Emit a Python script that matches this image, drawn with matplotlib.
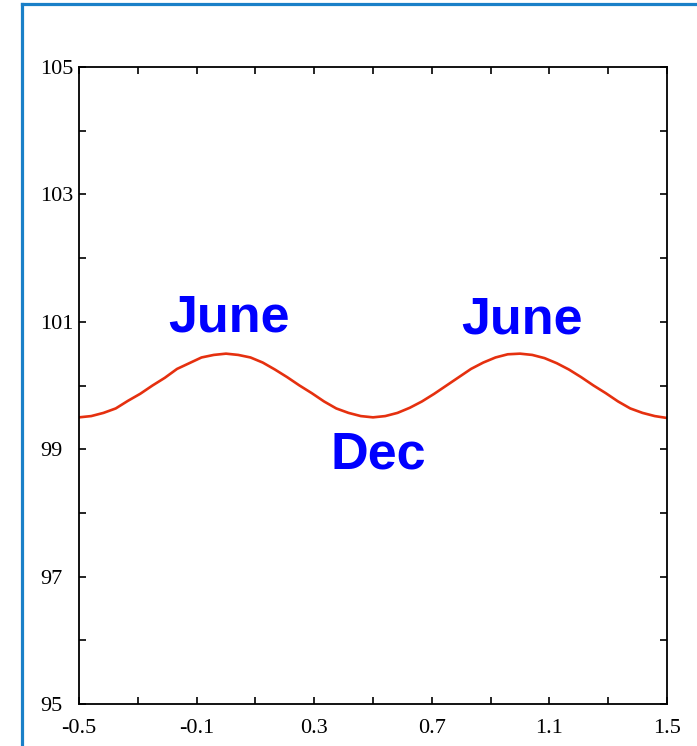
import numpy as np
import matplotlib.pyplot as plt
from matplotlib.lines import Line2D

# phase (years) and values
phase = np.arange(49) / 24.0 - 0.5
values = [99.50, 99.52, 99.57, 99.64, 99.76, 99.87, 100.00, 100.12, 100.26, 100.35,
          100.44, 100.48, 100.50, 100.48, 100.44, 100.36, 100.25, 100.13, 100.00, 99.88,
          99.75, 99.64, 99.57, 99.52, 99.50, 99.52, 99.57, 99.65, 99.75, 99.87,
          100.00, 100.13, 100.26, 100.36, 100.44, 100.49, 100.50, 100.48, 100.43, 100.35,
          100.25, 100.13, 100.00, 99.88, 99.75, 99.64, 99.57, 99.52, 99.49]

xticks = [-0.5, -0.3, -0.1, 0.1, 0.3, 0.5, 0.7, 0.9, 1.1, 1.3, 1.5]
xlabels = ['-0.5', '', '-0.1', '', '0.3', '', '0.7', '', '1.1', '', '1.5']
yticks = [95, 96, 97, 98, 99, 100, 101, 102, 103, 104, 105]
ylabels = ['95', '', '97', '', '99', '', '101', '', '103', '', '105']

plt.rcParams['font.family'] = 'Liberation Serif'

fig = plt.figure(figsize=(6.97, 7.46), dpi=100)
ax = fig.add_axes([79/697, 1 - 704/746, 588/697, 637/746])

ax.plot(phase, values, color='#e5300f', lw=1.9)

ax.set_xlim(-0.5, 1.5)
ax.set_ylim(95, 105)
ax.set_xticks(xticks)
ax.set_xticklabels(xlabels)
ax.set_yticks(yticks)
ax.set_yticklabels(ylabels)
ax.tick_params(direction='in', length=5, width=1.2, top=True, right=True,
               labelsize=16, colors='black')
ax.tick_params(axis='x', pad=11)
ax.tick_params(axis='y', pad=28)
for lab in ax.get_yticklabels():
    lab.set_horizontalalignment('left')
for s in ax.spines.values():
    s.set_linewidth(1.3)

tkw = dict(family='Liberation Sans', fontweight='bold', fontsize=37.5,
           color='#0000ff', ha='center', va='baseline')
ax.text(0.01, 100.84, 'June', **tkw)
ax.text(1.007, 100.81, 'June', **tkw)
ax.text(0.517, 98.70, 'Dec', **tkw)

# blue frame around the slide
fc = '#1a80c8'
fig.add_artist(Line2D([22/697, 22/697], [0, 1 - 4/746], color=fc, lw=2.3,
                      transform=fig.transFigure))
fig.add_artist(Line2D([22/697, 1], [1 - 4/746, 1 - 4/746], color=fc, lw=2.3,
                      transform=fig.transFigure))

fig.savefig('out.png', dpi=100)
